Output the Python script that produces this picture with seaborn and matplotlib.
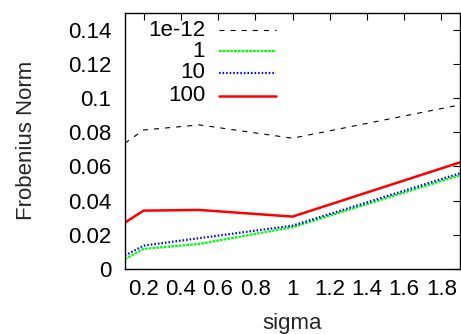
import matplotlib
matplotlib.use("Agg")
import matplotlib.pyplot as plt
from matplotlib.lines import Line2D
import seaborn as sns
import pandas as pd

sigma = [0.1, 0.2, 0.5, 1.0, 2.0]
s_1e12 = [0.0736, 0.0813, 0.0843, 0.0765, 0.0982]
s_1 = [0.0057, 0.0117, 0.0146, 0.0244, 0.0582]
s_10 = [0.0078, 0.0136, 0.0180, 0.0253, 0.0594]
s_100 = [0.0271, 0.0341, 0.0345, 0.0306, 0.0659]
labels = ["1e-12", "1", "10", "100"]
xtick_vals = [0.2, 0.4, 0.6, 0.8, 1.0, 1.2, 1.4, 1.6, 1.8]
xtick_labels = ["0.2", "0.4", "0.6", "0.8", "1", "1.2", "1.4", "1.6", "1.8"]
ytick_vals = [0, 0.02, 0.04, 0.06, 0.08, 0.1, 0.12, 0.14]
ytick_labels = ["0", "0.02", "0.04", "0.06", "0.08", "0.1", "0.12", "0.14"]

sns.set_style("white")
plt.rcParams['font.family'] = ['Liberation Sans', 'DejaVu Sans']
FS = 16

fig = plt.figure(figsize=(4.61, 3.34), dpi=100)
ax = fig.add_axes([0.271, 0.195, 0.727, 0.767])

series = [s_1e12, s_1, s_10, s_100]
styles = [
    dict(color="black", lw=0.8, dashes=(4.5, 5.5)),
    dict(color="#00ff00", lw=1.6, dashes=(1.2, 0.5)),
    dict(color="blue", lw=1.6, dashes=(0.7, 0.9)),
    dict(color="red", lw=1.8, dashes=None),
]
for lab, vals, st in zip(labels, series, styles):
    df = pd.DataFrame({"sigma": sigma, "v": vals})
    sns.lineplot(data=df, x="sigma", y="v", ax=ax, color=st["color"],
                 lw=st["lw"], legend=False)
    ln = ax.get_lines()[-1]
    if st["dashes"]:
        ln.set_dashes(st["dashes"])

# gnuplot-style legend: right-aligned labels followed by line samples
row_y = [0.932, 0.85, 0.765, 0.675]
for lab, st, yy in zip(labels, styles, row_y):
    ax.text(0.239, yy, lab, transform=ax.transAxes, ha="right", va="center",
            fontsize=FS, color="black")
    h = Line2D([0.281, 0.451], [yy, yy], transform=ax.transAxes,
               color=st["color"], lw=st["lw"])
    if st["dashes"]:
        h.set_dashes(st["dashes"])
    ax.add_line(h)

ax.set_xlim(0.1, 1.9)
ax.set_ylim(0, 0.15)
ax.set_xticks(xtick_vals)
ax.set_xticklabels(xtick_labels)
ax.set_yticks(ytick_vals)
ax.set_yticklabels(ytick_labels)
ax.tick_params(direction="in", length=5, width=0.8, top=True, right=True,
               labelsize=FS, colors="black")
ax.tick_params(axis="x", pad=7)
ax.tick_params(axis="y", pad=10)
for sp in ax.spines.values():
    sp.set_color("black")
    sp.set_linewidth(1.0)
ax.set_xlabel("sigma", fontsize=FS, labelpad=10)
ax.set_ylabel("Frobenius Norm", fontsize=FS, labelpad=22)

fig.savefig("out.png", dpi=100)
